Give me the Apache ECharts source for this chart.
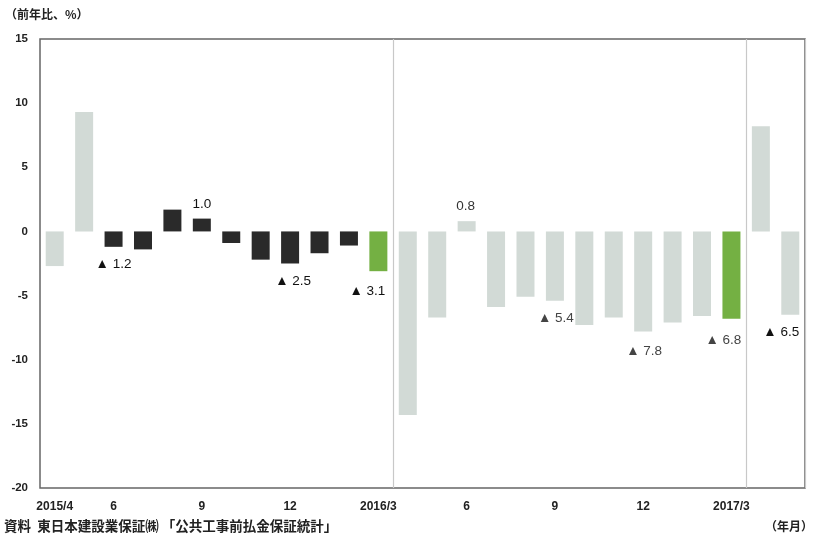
<!DOCTYPE html>
<html><head><meta charset="utf-8">
<script src="https://cdn.jsdelivr.net/npm/echarts@6/dist/echarts.min.js"></script>
<style>html,body{margin:0;padding:0;background:#fff}#c{width:815px;height:537px}</style>
</head><body><div id="c"></div>
<script>
// ---- data ----
const categories = ['2015/4','2015/5','2015/6','2015/7','2015/8','2015/9','2015/10','2015/11','2015/12','2016/1','2016/2','2016/3',
  '2016/4','2016/5','2016/6','2016/7','2016/8','2016/9','2016/10','2016/11','2016/12','2017/1','2017/2','2017/3','2017/4','2017/5'];
const tickLabels = ['2015/4','','6','','','9','','','12','','','2016/3','','','6','','','9','','','12','','','2017/3','',''];
const values = [-2.7, 9.3, -1.2, -1.4, 1.7, 1.0, -0.9, -2.2, -2.5, -1.7, -1.1, -3.1,
  -14.3, -6.7, 0.8, -5.9, -5.1, -5.4, -7.3, -6.7, -7.8, -7.1, -6.6, -6.8, 8.2, -6.5];
const barGroups = ['light','light','dark','dark','dark','dark','dark','dark','dark','dark','dark','fiscal',
  'light','light','light','light','light','light','light','light','light','light','light','fiscal','light','light'];
const labeledIdx = [2, 5, 8, 11, 14, 17, 20, 23, 25];
const yTicks = {min: -20, max: 15, interval: 5};

// ---- styles ----
const groupColors = {light: '#d2dad6', dark: '#2a2a2a', fiscal: '#74b043'};
const labelTweaks = {
  2: {d: 10, dx: 0, c: '#111'}, 5: {d: 7.5, dx: 0, c: '#111'}, 8: {d: 10.5, dx: 3, c: '#111'},
  11: {d: 13.5, dx: -11, c: '#111'}, 14: {d: 7.5, dx: -1, c: '#333'}, 17: {d: 10.5, dx: 1, c: '#444'},
  20: {d: 13, dx: 1, c: '#444'}, 23: {d: 15, dx: -8, c: '#444'}, 25: {d: 10.5, dx: -9, c: '#111'}
};
const FONT = '"Noto Sans CJK JP", "Liberation Sans", sans-serif';

const fmt = v => (v < 0 ? '▲ ' + Math.abs(v).toFixed(1) : v.toFixed(1));

const seriesData = values.map((v, i) => {
  const item = {value: v, itemStyle: {color: groupColors[barGroups[i]]}};
  if (labeledIdx.includes(i)) {
    const t = labelTweaks[i] || {d: 8, dx: 0, c: '#111'};
    item.label = {
      show: true, position: 'outside', distance: t.d, offset: [t.dx, 0],
      formatter: fmt(v), color: t.c, fontSize: 13.5, fontFamily: '"Liberation Sans", sans-serif'
    };
  }
  return item;
});

const chart = echarts.init(document.getElementById('c'), null, {renderer: 'canvas'});
chart.setOption({
  animation: false,
  backgroundColor: '#fff',
  grid: {left: 40, right: 10, top: 39, bottom: 49, show: true, borderColor: '#666', borderWidth: 1.5, backgroundColor: 'transparent'},
  xAxis: {
    type: 'category', data: categories, boundaryGap: true,
    axisLine: {show: false, onZero: false}, axisTick: {show: false},
    axisLabel: {interval: 0, margin: 13, color: '#222', fontWeight: 'bold', fontSize: 12,
      fontFamily: '"Liberation Sans", sans-serif', formatter: (val, idx) => tickLabels[idx]},
    splitLine: {show: true, interval: (idx) => idx === 12 || idx === 24, lineStyle: {color: '#c8c8c8', width: 1.2}}
  },
  yAxis: {
    type: 'value', min: yTicks.min, max: yTicks.max, interval: yTicks.interval,
    axisLine: {show: false}, axisTick: {show: false}, splitLine: {show: false},
    axisLabel: {margin: 12, color: '#222', fontWeight: 'bold', fontSize: 11.5, fontFamily: '"Liberation Sans", sans-serif'}
  },
  series: [{
    type: 'bar', data: seriesData, barWidth: 18, label: {show: false}
  }],
  graphic: [
    {type: 'text', left: 5, top: 8, style: {text: '（前年比、%）', font: 'bold 12px ' + FONT, fill: '#222'}},
    {type: 'text', left: 4, top: 519, style: {text: '資料  東日本建設業保証㈱ 「公共工事前払金保証統計」', font: 'bold 13.5px ' + FONT, fill: '#222'}},
    {type: 'text', right: 2, top: 520, style: {text: '（年月）', font: 'bold 12px ' + FONT, fill: '#222'}}
  ]
});
</script></body></html>
